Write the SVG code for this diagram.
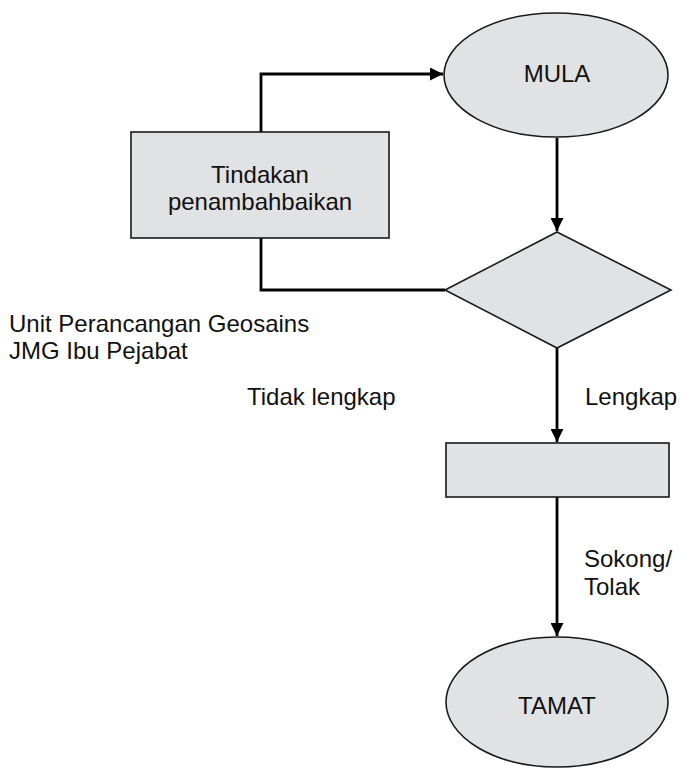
<svg xmlns="http://www.w3.org/2000/svg" width="681" height="769" viewBox="0 0 681 769">
<style>
.shape{fill:#e1e2e4;stroke:#1a1a1a;stroke-width:1.6}
.conn{fill:none;stroke:#000;stroke-width:2.8}
text{font-family:"Liberation Sans",Arial,sans-serif;font-size:24px;fill:#111}
.c{text-anchor:middle}
</style>
<defs>
<marker id="arr" markerWidth="13" markerHeight="13" refX="13" refY="6.5" orient="auto" markerUnits="userSpaceOnUse">
<path d="M0,0 L13,6.5 L0,13 Z" fill="#000"/>
</marker>
</defs>
<rect width="681" height="769" fill="#fff"/>
<g id="connectors">
<path class="conn" d="M261,132 V74 H443" marker-end="url(#arr)"/>
<path class="conn" d="M557,138 V231" marker-end="url(#arr)"/>
<path class="conn" d="M445,290 H261 V238"/>
<path class="conn" d="M557,348 V442" marker-end="url(#arr)"/>
<path class="conn" d="M557,497 V636" marker-end="url(#arr)"/>
</g>
<g id="mula">
<ellipse class="shape" cx="556" cy="75" rx="112" ry="62"/>
<text class="c" x="557" y="82">MULA</text>
</g>
<g id="tindakan">
<rect class="shape" x="131" y="132" width="258" height="106"/>
<text class="c" x="260" y="183">Tindakan</text>
<text class="c" x="260" y="210">penambahbaikan</text>
</g>
<g id="decision">
<polygon class="shape" points="557,232 671,290 557,348 445,290"/>
</g>
<g id="process">
<rect class="shape" x="446" y="443" width="223" height="54"/>
</g>
<g id="tamat">
<ellipse class="shape" cx="557" cy="702" rx="111" ry="65"/>
<text class="c" x="557" y="714">TAMAT</text>
</g>
<g id="labels">
<text x="9" y="332">Unit Perancangan Geosains</text>
<text x="9" y="359">JMG Ibu Pejabat</text>
<text x="247" y="405">Tidak lengkap</text>
<text x="585" y="405">Lengkap</text>
<text x="584" y="567">Sokong/</text>
<text x="584" y="595">Tolak</text>
</g>
</svg>
